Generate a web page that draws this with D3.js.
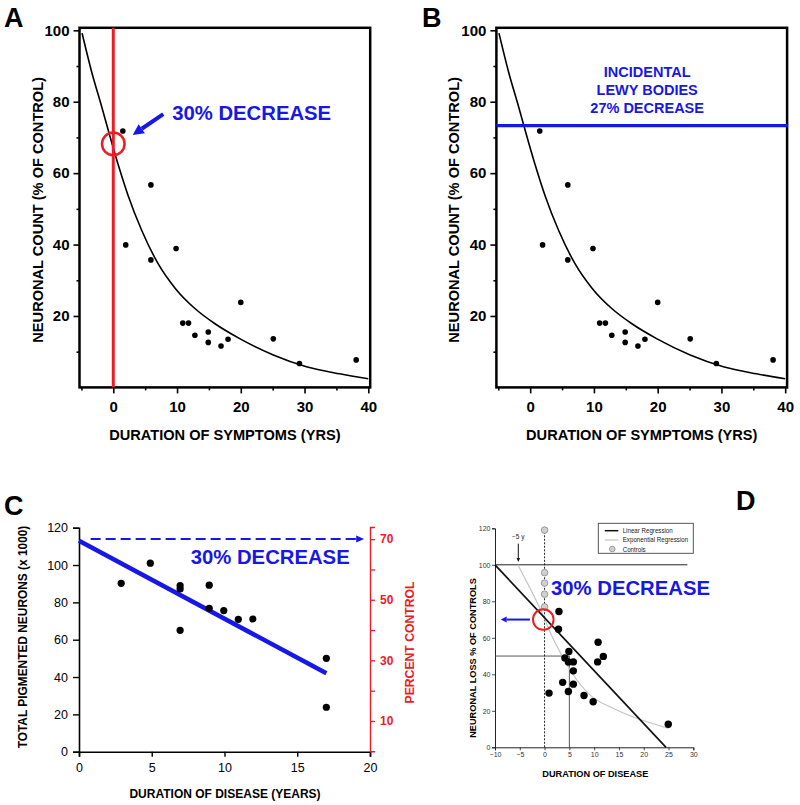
<!DOCTYPE html>
<html>
<head>
<meta charset="utf-8">
<script src="https://cdn.jsdelivr.net/npm/d3@7"></script>
<style>
  html, body { margin: 0; padding: 0; background: #fff; }
  svg { display: block; }
  text { font-family: "Liberation Sans", Arial, Helvetica, sans-serif; }
</style>
</head>
<body>
<svg id="chart" width="800" height="805"></svg>
<script>
// ---------- DATA ----------
// Panels A & B: neuronal count vs duration of symptoms
const durationAB = [1.5, 1.95, 5.9, 5.9, 9.85, 10.9, 11.8, 12.8, 14.9, 14.9, 16.9, 18.0, 20.0, 25.1, 29.2, 38.1];
const countAB    = [71.8, 39.9, 56.7, 35.7, 38.9, 18.0, 18.0, 14.6, 15.5, 12.6, 11.6, 13.5, 23.8, 13.6, 6.7, 7.7];
const fitXAB = [-4.9, -3.4, -1.85, -0.25, 0.8, 2.35, 4.45, 7.05, 9.7, 12.8, 15.9, 19.9, 25.1, 30.3, 35.5, 40];
const fitYAB = [99.2, 88.4, 78.8, 68.6, 62.2, 53.6, 44.0, 34.6, 27.8, 22.1, 17.9, 13.6, 9.1, 5.8, 3.8, 2.4];
const xTicksMajorAB = [0, 10, 20, 30, 40];
const xTicksMinorAB = [-5, 5, 15, 25, 35];
const yTicksMajorAB = [20, 40, 60, 80, 100];
const yTicksMinorAB = [10, 30, 50, 70, 90];
const lewyLevel = 73.3;

// Panel C: total pigmented neurons vs duration of disease
const durationC = [2.9, 4.9, 6.95, 6.95, 6.95, 8.95, 8.95, 9.95, 10.95, 11.95, 17, 17];
const neuronsC  = [90.2, 101, 89, 87.2, 65, 89.2, 76.8, 75.6, 70.9, 71.1, 50, 23.8];
const regXC = [0, 17];
const regYC = [113, 42];
const xTicksC = [0, 5, 10, 15, 20];
const yTicksC = [0, 20, 40, 60, 80, 100, 120];
const pctTicksC = [10, 20, 30, 40, 50, 60, 70];
const pctLabelsC = [10, 30, 50, 70];

// Panel D: neuronal loss vs duration of disease
const durationD = [2.9, 2.8, 4.9, 4.1, 4.8, 5.8, 5.8, 3.65, 5.8, 4.8, 0.9, 7.95, 9.8, 10.8, 10.7, 11.85, 24.95];
const lossD     = [74.4, 64.7, 52.5, 49, 46.7, 46.8, 41.9, 35.6, 34.6, 30.6, 29.7, 28.4, 25, 57.6, 46.8, 49.8, 12.6];
const controlsD = [119, 95.7, 90, 83.9, 77];
const linRegXD = [-10, 24.5];
const linRegYD = [100, 0];
const expRegXD = [-5.4, -1.9, -0.3, 1.4, 3.45, 5.8, 9.2, 13.9, 18.6, 25];
const expRegYD = [100, 81.5, 72.4, 61.4, 50.5, 39.6, 28.6, 21.3, 15.9, 10.4];
const xTicksD = [-10, -5, 0, 5, 10, 15, 20, 25, 30];
const yTicksD = [0, 20, 40, 60, 80, 100, 120];
const legendLabelsD = ["Linear Regression", "Exponential Regression", "Controls"];

// ---------- STYLE ----------
const BLUE = "#1717e6";
const RED = "#ec1c24";
const svg = d3.select("#chart");

function arrow(g, x1, y1, x2, y2, color, width, headLen, headW) {
  const ang = Math.atan2(y2 - y1, x2 - x1);
  const bx = x2 - headLen * Math.cos(ang), by = y2 - headLen * Math.sin(ang);
  g.append("line").attr("x1", x1).attr("y1", y1).attr("x2", bx).attr("y2", by)
    .attr("stroke", color).attr("stroke-width", width);
  const px = -Math.sin(ang) * headW / 2, py = Math.cos(ang) * headW / 2;
  g.append("path")
    .attr("d", `M${x2},${y2}L${bx + px},${by + py}L${bx - px},${by - py}Z`)
    .attr("fill", color);
}

// ---------- PANELS A & B ----------
function panelAB(offsetX, letter, variant) {
  const g = svg.append("g");
  const x = d3.scaleLinear().domain([-5.3, 40.3]).range([79.5 + offsetX, 370.2 + offsetX]);
  const y = d3.scaleLinear().domain([0, 100]).range([387.4, 30.3]);

  g.append("g").attr("transform", `translate(0,${y(0)})`)
    .call(d3.axisBottom(x).tickValues(xTicksMajorAB).tickSize(6).tickPadding(8));
  g.append("g").attr("transform", `translate(0,${y(0)})`)
    .call(d3.axisBottom(x).tickValues(xTicksMinorAB).tickSize(3).tickFormat(""));
  g.append("g").attr("transform", `translate(${x(-5.3)},0)`)
    .call(d3.axisLeft(y).tickValues(yTicksMajorAB).tickSize(6).tickPadding(4));
  g.append("g").attr("transform", `translate(${x(-5.3)},0)`)
    .call(d3.axisLeft(y).tickValues(yTicksMinorAB).tickSize(3).tickFormat(""));
  g.selectAll(".domain").remove();
  g.selectAll(".tick line").attr("stroke", "#000").attr("stroke-width", 1.6);
  g.selectAll(".tick text").attr("font-size", 15).attr("font-weight", "bold")
    .attr("fill", "#000").style("font-family", "'Liberation Sans', Arial, sans-serif");

  g.append("rect")
    .attr("x", x(-5.3)).attr("y", y(100.7))
    .attr("width", x(40.3) - x(-5.3)).attr("height", y(0) - y(100.7))
    .attr("fill", "none").attr("stroke", "#000").attr("stroke-width", 2.5);

  const fit = fitXAB.map((d, i) => [d, fitYAB[i]]);
  g.append("path").datum(fit)
    .attr("d", d3.line().x(d => x(d[0])).y(d => y(d[1])).curve(d3.curveMonotoneX))
    .attr("fill", "none").attr("stroke", "#000").attr("stroke-width", 1.6);

  g.selectAll("circle.pt").data(durationAB.map((d, i) => [d, countAB[i]])).enter()
    .append("circle").attr("class", "pt")
    .attr("cx", d => x(d[0])).attr("cy", d => y(d[1])).attr("r", 2.8).attr("fill", "#000");

  if (variant === "A") {
    g.append("line").attr("x1", x(0)).attr("x2", x(0)).attr("y1", y(100.7)).attr("y2", y(0))
      .attr("stroke", RED).attr("stroke-width", 3);
    g.append("circle").attr("cx", x(0)).attr("cy", y(68.2)).attr("r", 11.3)
      .attr("fill", "none").attr("stroke", RED).attr("stroke-width", 2.5);
    arrow(g, x(7.84), y(76.5), x(3.04), y(70.7), BLUE, 4, 11, 11);
    g.append("text").attr("x", x(9.24)).attr("y", y(74.9))
      .attr("font-size", 20.3).attr("font-weight", "bold").attr("fill", BLUE)
      .text("30% DECREASE");
  } else {
    g.append("line").attr("x1", x(-5.3)).attr("x2", x(40.3) + 1).attr("y1", y(lewyLevel)).attr("y2", y(lewyLevel))
      .attr("stroke", BLUE).attr("stroke-width", 3.4);
    const lines = ["INCIDENTAL", "LEWY BODIES", "27% DECREASE"];
    const ys = [86.9, 81.85, 76.9];
    lines.forEach((t, i) => {
      g.append("text").attr("x", x(18.35)).attr("y", y(ys[i])).attr("text-anchor", "middle")
        .attr("font-size", 14.5).attr("font-weight", "bold").attr("fill", BLUE).text(t);
    });
  }

  g.append("text")
    .attr("transform", `translate(${x(-5.3) - 37},${(y(0) + y(100)) / 2 + 1}) rotate(-90)`)
    .attr("text-anchor", "middle").attr("font-size", 14.6).attr("font-weight", "bold")
    .text("NEURONAL COUNT (% OF CONTROL)");
  g.append("text").attr("x", (x(-5.3) + x(40.3)) / 2).attr("y", 440)
    .attr("text-anchor", "middle").attr("font-size", 14.6).attr("font-weight", "bold")
    .text("DURATION OF SYMPTOMS (YRS)");
  g.append("text").attr("x", offsetX + (variant === "A" ? 4 : 5)).attr("y", 27)
    .attr("font-size", 27).attr("font-weight", "bold").text(letter);
}
panelAB(0, "A", "A");
panelAB(416.9, "B", "B");

// ---------- PANEL C ----------
(function () {
  const g = svg.append("g");
  const x = d3.scaleLinear().domain([0, 20]).range([79, 370]);
  const y = d3.scaleLinear().domain([0, 120]).range([751.7, 527.7]);
  const yR = d3.scaleLinear().domain([0, 74]).range([751.3, 527]);

  const gx = g.append("g").attr("transform", `translate(0,${y(0)})`)
    .call(d3.axisBottom(x).tickValues(xTicksC).tickSize(5).tickPadding(6));
  const gy = g.append("g").attr("transform", `translate(${x(0)},0)`)
    .call(d3.axisLeft(y).tickValues(yTicksC).tickSize(6).tickPadding(5));
  [gx, gy].forEach(a => {
    a.select(".domain").attr("stroke", "#000").attr("stroke-width", 1.6);
    a.selectAll(".tick line").attr("stroke", "#000").attr("stroke-width", 1.4);
    a.selectAll(".tick text").attr("font-size", 12.5).attr("fill", "#000")
      .style("font-family", "'Liberation Sans', Arial, sans-serif");
  });
  const gr = g.append("g").attr("transform", `translate(${x(20)},0)`)
    .call(d3.axisRight(yR).tickValues(pctTicksC).tickSize(5).tickPadding(5)
      .tickFormat(d => pctLabelsC.includes(d) ? d : ""));
  gr.select(".domain").attr("stroke", RED).attr("stroke-width", 1.4);
  gr.selectAll(".tick line").attr("stroke", RED).attr("stroke-width", 1.3);
  gr.selectAll(".tick text").attr("font-size", 12).attr("font-weight", "bold").attr("fill", RED)
    .style("font-family", "'Liberation Sans', Arial, sans-serif");

  g.append("line").attr("x1", x(0.8)).attr("x2", x(19.2)).attr("y1", yR(70)).attr("y2", yR(70))
    .attr("stroke", BLUE).attr("stroke-width", 2).attr("stroke-dasharray", "10,5");
  arrow(g, x(19.0), yR(70), x(19.6), yR(70), BLUE, 2, 8, 7);

  g.append("line").attr("x1", x(regXC[0])).attr("y1", y(regYC[0]))
    .attr("x2", x(regXC[1])).attr("y2", y(regYC[1]))
    .attr("stroke", BLUE).attr("stroke-width", 4.5);

  g.selectAll("circle.pt").data(durationC.map((d, i) => [d, neuronsC[i]])).enter()
    .append("circle").attr("cx", d => x(d[0])).attr("cy", d => y(d[1])).attr("r", 3.6).attr("fill", "#000");

  g.append("text").attr("x", x(7.68)).attr("y", y(100.6))
    .attr("font-size", 20.3).attr("font-weight", "bold").attr("fill", BLUE).text("30% DECREASE");

  g.append("text").attr("transform", `translate(27,637) rotate(-90)`)
    .attr("text-anchor", "middle").attr("font-size", 11.9).attr("font-weight", "bold")
    .text("TOTAL PIGMENTED NEURONS (x 1000)");
  g.append("text").attr("transform", `translate(413.5,642.5) rotate(-90)`)
    .attr("text-anchor", "middle").attr("font-size", 12.2).attr("font-weight", "bold").attr("fill", RED)
    .text("PERCENT CONTROL");
  g.append("text").attr("x", 225).attr("y", 798)
    .attr("text-anchor", "middle").attr("font-size", 12).attr("font-weight", "bold")
    .text("DURATION OF DISEASE (YEARS)");
  g.append("text").attr("x", 4).attr("y", 515)
    .attr("font-size", 27).attr("font-weight", "bold").text("C");
})();

// ---------- PANEL D ----------
(function () {
  const g = svg.append("g");
  const x = d3.scaleLinear().domain([-10, 30]).range([495, 693.3]);
  const y = d3.scaleLinear().domain([0, 120]).range([747.3, 528.3]);
  const NARROW = "'Liberation Sans Narrow', 'Arial Narrow', 'Liberation Sans', Arial, sans-serif";

  const gx = g.append("g").attr("transform", `translate(0,${y(0)})`)
    .call(d3.axisBottom(x).tickValues(xTicksD).tickSize(3).tickPadding(2));
  const gy = g.append("g").attr("transform", `translate(${x(-10)},0)`)
    .call(d3.axisLeft(y).tickValues(yTicksD).tickSize(3).tickPadding(1.5));
  [gx, gy].forEach(a => {
    a.select(".domain").attr("stroke", "#222").attr("stroke-width", 1);
    a.selectAll(".tick line").attr("stroke", "#222").attr("stroke-width", 0.8);
    a.selectAll(".tick text").attr("font-size", 7).attr("fill", "#333").style("font-family", NARROW);
  });

  g.append("line").attr("x1", x(-10)).attr("x2", x(28.8)).attr("y1", y(100)).attr("y2", y(100))
    .attr("stroke", "#222").attr("stroke-width", 1);
  g.append("line").attr("x1", x(-10)).attr("x2", x(5)).attr("y1", y(50)).attr("y2", y(50))
    .attr("stroke", "#444").attr("stroke-width", 0.9);
  g.append("line").attr("x1", x(5)).attr("x2", x(5)).attr("y1", y(50)).attr("y2", y(0))
    .attr("stroke", "#444").attr("stroke-width", 0.9);
  g.append("line").attr("x1", x(0)).attr("x2", x(0)).attr("y1", y(120)).attr("y2", y(0))
    .attr("stroke", "#222").attr("stroke-width", 1).attr("stroke-dasharray", "2,1.5");

  g.append("path").datum(expRegXD.map((d, i) => [d, expRegYD[i]]))
    .attr("d", d3.line().x(d => x(d[0])).y(d => y(d[1])).curve(d3.curveMonotoneX))
    .attr("fill", "none").attr("stroke", "#c4c4c4").attr("stroke-width", 1.2);
  g.append("line").attr("x1", x(linRegXD[0])).attr("y1", y(linRegYD[0]))
    .attr("x2", x(linRegXD[1])).attr("y2", y(linRegYD[1]))
    .attr("stroke", "#111").attr("stroke-width", 1.7);

  g.selectAll("circle.ctl").data(controlsD).enter().append("circle")
    .attr("cx", x(0)).attr("cy", d => y(d)).attr("r", 3.3)
    .attr("fill", "#d0d0d0").attr("stroke", "#8a8a8a").attr("stroke-width", 0.8);
  g.selectAll("circle.pt").data(durationD.map((d, i) => [d, lossD[i]])).enter().append("circle")
    .attr("cx", d => x(d[0])).attr("cy", d => y(d[1])).attr("r", 3.7).attr("fill", "#000");

  g.append("text").attr("x", x(-5.3)).attr("y", y(114.3)).attr("text-anchor", "middle")
    .attr("font-size", 6.5).attr("fill", "#222").style("font-family", NARROW).text("\u22125 y");
  arrow(g, x(-5.3), y(111.6), x(-5.3), y(101.6), "#111", 1, 4, 3.5);

  g.append("circle").attr("cx", x(-0.26)).attr("cy", y(70)).attr("r", 10.3)
    .attr("fill", "none").attr("stroke", RED).attr("stroke-width", 2);
  arrow(g, x(-2.95), y(70), x(-8.85), y(70), BLUE, 2, 6, 6);

  g.append("text").attr("x", x(1.3)).attr("y", y(83.3))
    .attr("font-size", 20.3).attr("font-weight", "bold").attr("fill", BLUE).text("30% DECREASE");

  // legend
  const lg = g.append("g").attr("transform", "translate(598.3,523.3)");
  lg.append("rect").attr("width", 95).attr("height", 30).attr("fill", "#fff")
    .attr("stroke", "#444").attr("stroke-width", 0.9);
  lg.append("line").attr("x1", 6.5).attr("x2", 20).attr("y1", 7.4).attr("y2", 7.4).attr("stroke", "#111").attr("stroke-width", 1.5);
  lg.append("line").attr("x1", 6.5).attr("x2", 20).attr("y1", 16.7).attr("y2", 16.7).attr("stroke", "#c4c4c4").attr("stroke-width", 1.2);
  lg.append("circle").attr("cx", 14).attr("cy", 25.7).attr("r", 2.8).attr("fill", "#d0d0d0").attr("stroke", "#8a8a8a").attr("stroke-width", 0.8);
  const legWidths = [50, 65.5, 23];
  legendLabelsD.forEach((t, i) => {
    lg.append("text").attr("x", 24.4).attr("y", 9.9 + i * 9.3).attr("font-size", 7.4).attr("fill", "#222")
      .attr("textLength", legWidths[i]).attr("lengthAdjust", "spacingAndGlyphs")
      .style("font-family", NARROW).text(t);
  });

  g.append("text").attr("transform", `translate(476,658) rotate(-90)`)
    .attr("text-anchor", "middle").attr("font-size", 9.2).attr("font-weight", "bold")
    .text("NEURONAL LOSS % OF CONTROLS");
  g.append("text").attr("x", 595.3).attr("y", 776.8)
    .attr("text-anchor", "middle").attr("font-size", 9.2).attr("font-weight", "bold")
    .text("DURATION OF DISEASE");
  g.append("text").attr("x", 736).attr("y", 510)
    .attr("font-size", 27).attr("font-weight", "bold").text("D");
})();
</script>
</body>
</html>
